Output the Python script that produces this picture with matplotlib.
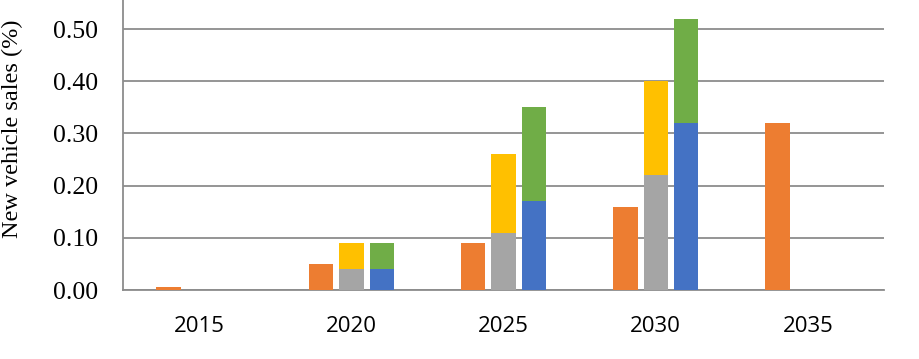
import matplotlib
matplotlib.use("Agg")
import matplotlib.pyplot as plt
import numpy as np

years = ["2015", "2020", "2025", "2030", "2035"]
series_a = [0.006, 0.05, 0.09, 0.16, 0.32]          # orange
series_b_low = [0.0, 0.04, 0.11, 0.22, 0.0]         # gray
series_b_high = [0.0, 0.05, 0.15, 0.18, 0.0]        # yellow (stacked on gray)
series_c_low = [0.0, 0.04, 0.17, 0.32, 0.0]         # blue
series_c_high = [0.0, 0.05, 0.18, 0.20, 0.0]       # green (stacked on blue)
yticks = [0.0, 0.1, 0.2, 0.3, 0.4, 0.5]

c_orange = "#ED7D31"
c_gray = "#A5A5A5"
c_yellow = "#FFC000"
c_blue = "#4472C4"
c_green = "#70AD47"

fig = plt.figure(figsize=(9.2, 3.59), dpi=100)
ax = fig.add_axes([0.1337, 0.192, 0.961 - 0.1337, 0.808])

x = np.arange(len(years))
w = 0.16
off = 0.2
ax.bar(x - off, series_a, w, color=c_orange, zorder=3)
ax.bar(x, series_b_low, w, color=c_gray, zorder=3)
ax.bar(x, series_b_high, w, bottom=series_b_low, color=c_yellow, zorder=3)
ax.bar(x + off, series_c_low, w, color=c_blue, zorder=3)
ax.bar(x + off, series_c_high, w, bottom=series_c_low, color=c_green, zorder=3)

ax.set_xlim(-0.5, 4.5)
ax.set_ylim(0, 0.5556)
ax.set_yticks(yticks)
ax.set_yticklabels([f"{v:.2f}" for v in yticks], fontfamily="Liberation Serif", fontsize=18.5)
ax.set_xticks(x)
ax.set_xticklabels(years, fontfamily="Open Sans", fontsize=16)
ax.tick_params(axis="both", length=0)
ax.tick_params(axis="y", pad=18)
ax.tick_params(axis="x", pad=19)

ax.grid(axis="y", color="#8c8c8c", linewidth=1.3, zorder=0)
for s in ["top", "right"]:
    ax.spines[s].set_visible(False)
for s in ["left", "bottom"]:
    ax.spines[s].set_color("#8c8c8c")
    ax.spines[s].set_linewidth(1.3)

ax.set_ylabel("New vehicle sales (%)", fontfamily="Liberation Serif", fontsize=17.5)
ax.yaxis.set_label_coords(-0.131, 0.555)

fig.savefig("out.png", dpi=100, facecolor="white")
